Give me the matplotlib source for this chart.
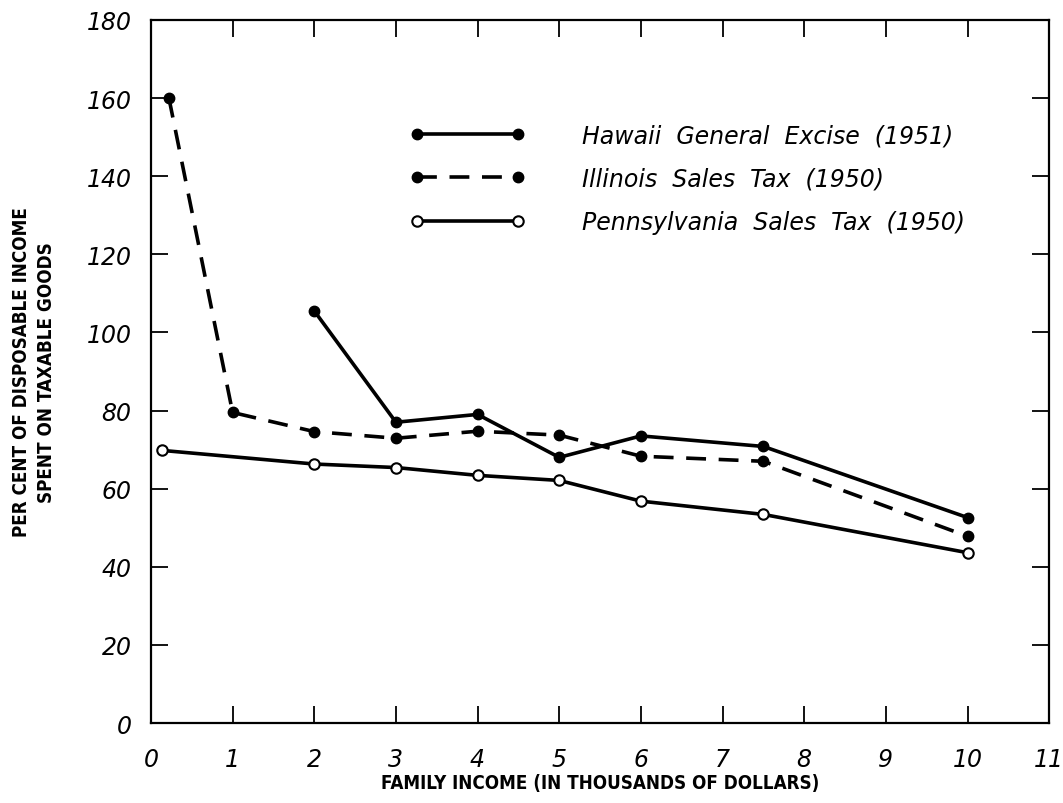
import matplotlib
matplotlib.use("Agg")
import matplotlib.pyplot as plt

# data
hawaii_x = [2, 3, 4, 5, 6, 7.5, 10]
hawaii_y = [105.5, 77, 79, 68, 73.5, 70.8, 52.6]

illinois_x = [0.22, 1, 2, 3, 4, 5, 6, 7.5, 10]
illinois_y = [160, 79.5, 74.6, 72.9, 74.7, 73.7, 68.3, 67, 47.8]

penn_x = [0.13, 2, 3, 4, 5, 6, 7.5, 10]
penn_y = [69.8, 66.3, 65.4, 63.4, 62.1, 56.8, 53.4, 43.6]

x_ticks = list(range(0, 12))
y_ticks = list(range(0, 181, 20))

fig = plt.figure(figsize=(10.63, 8.04), dpi=100)
ax = fig.add_axes([0.142, 0.0995, 0.845, 0.8745])

lw = 2.6
ax.plot(hawaii_x, hawaii_y, color="black", lw=lw, marker="o", ms=7.5,
        mfc="black", mec="black", label="Hawaii  General  Excise  (1951)")
ax.plot(illinois_x, illinois_y, color="black", lw=lw, ls=(0, (5.5, 3.5)),
        marker="o", ms=7.5, mfc="black", mec="black",
        label="Illinois  Sales  Tax  (1950)")
ax.plot(penn_x, penn_y, color="black", lw=lw, marker="o", ms=7.5,
        mfc="white", mec="black", mew=1.5,
        label="Pennsylvania  Sales  Tax  (1950)")

ax.set_xlim(0, 11)
ax.set_ylim(0, 180)
ax.set_xticks(x_ticks)
ax.set_yticks(y_ticks)
ax.tick_params(direction="in", length=12, width=1.3, top=True, right=True,
               labelsize=17)
ax.tick_params(axis="y", pad=14)
ax.tick_params(axis="x", pad=17)
for lab in ax.get_xticklabels() + ax.get_yticklabels():
    lab.set_fontstyle("italic")
for s in ax.spines.values():
    s.set_linewidth(1.6)

lab_font = dict(family="DejaVu Sans", stretch="condensed",
                weight="bold", size=13.5)
ax.set_xlabel("FAMILY INCOME (IN THOUSANDS OF DOLLARS)", labelpad=2, **lab_font)
ax.set_ylabel("PER CENT OF DISPOSABLE INCOME\nSPENT ON TAXABLE GOODS",
              labelpad=22, linespacing=1.4, **lab_font)

ax.legend(loc="upper left", bbox_to_anchor=(0.275, 0.87), frameon=False,
          numpoints=2, handlelength=4.9, handletextpad=2.4, labelspacing=0.83,
          borderpad=0, prop=dict(style="italic", size=17))

fig.savefig("out.png", dpi=100)
